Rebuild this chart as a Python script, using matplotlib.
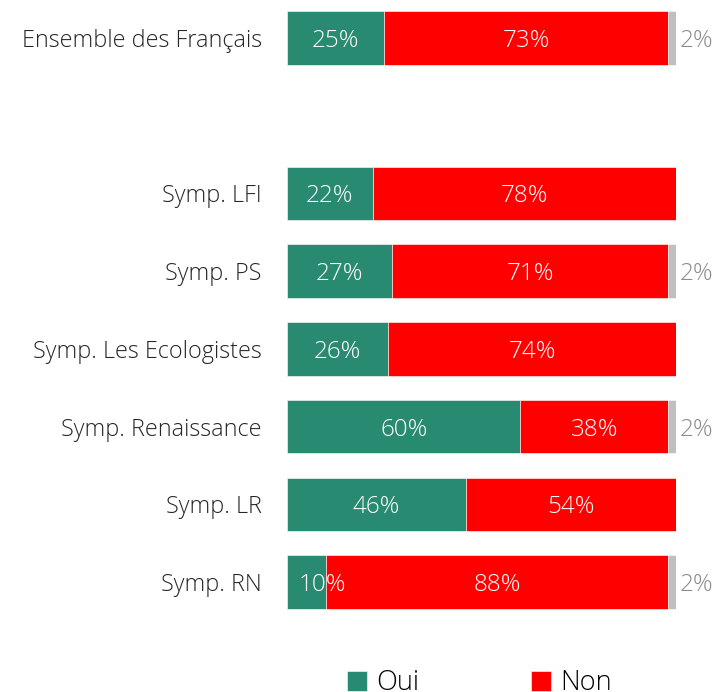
import numpy as np
import matplotlib
matplotlib.use("Agg")
import matplotlib.pyplot as plt

plt.rcParams['font.family'] = ['Open Sans', 'DejaVu Sans']

groups = ["Ensemble des Français", "Symp. LFI", "Symp. PS", "Symp. Les Ecologistes",
          "Symp. Renaissance", "Symp. LR", "Symp. RN"]
slots = [0, 2, 3, 4, 5, 6, 7]
oui = [25, 22, 27, 26, 60, 46, 10]
non = [73, 78, 71, 74, 38, 54, 88]
nsp = [2, 0, 2, 0, 2, 0, 2]

green = "#288A70"
red = "#FF0000"
grey = "#BFBFBF"

fig = plt.figure(figsize=(7.18, 6.92), dpi=100)
ax = fig.add_axes([287 / 718, 71 / 692, 389 / 718, 622 / 692])

oui = np.array(oui)
non = np.array(non)
nsp = np.array(nsp)
h = 0.69

ax.barh(slots, oui, height=h, color=green, edgecolor="white", linewidth=0.4, label="Oui")
ax.barh(slots, non, left=oui, height=h, color=red, edgecolor="white", linewidth=0.4, label="Non")
ax.barh(slots, nsp, left=oui + non, height=h, color=grey, edgecolor="white", linewidth=0.4)

for y, o, n, s, name in zip(slots, oui, non, nsp, groups):
    ax.text(o / 2 + (4 if o < 15 else 0), y, "%d%%" % o, ha="center", va="center_baseline",
            color="white", fontsize=17.5, fontweight="light")
    ax.text(o + n / 2, y, "%d%%" % n, ha="center", va="center_baseline",
            color="white", fontsize=17.5, fontweight="light")
    if s > 0:
        ax.text(o + n + s + 1.0, y, "%d%%" % s, ha="left", va="center_baseline",
                color="#8C8C8C", fontsize=17.5, fontweight="light", clip_on=False)
    ax.text(-6.5, y, name, ha="right", va="center_baseline", color="#262626",
            fontsize=16.8, fontweight="light", clip_on=False)

ax.set_xlim(0, 100)
ax.set_ylim(7.5, -0.5)
ax.axis("off")

fig.legend(loc="upper center", bbox_to_anchor=(0.668, 0.068), ncol=2, frameon=False,
           handlelength=0.75, handleheight=0.75, handletextpad=0.35,
           columnspacing=4.1, prop={'weight': 'light', 'size': 19.5})

fig.savefig("out.png", dpi=100)
